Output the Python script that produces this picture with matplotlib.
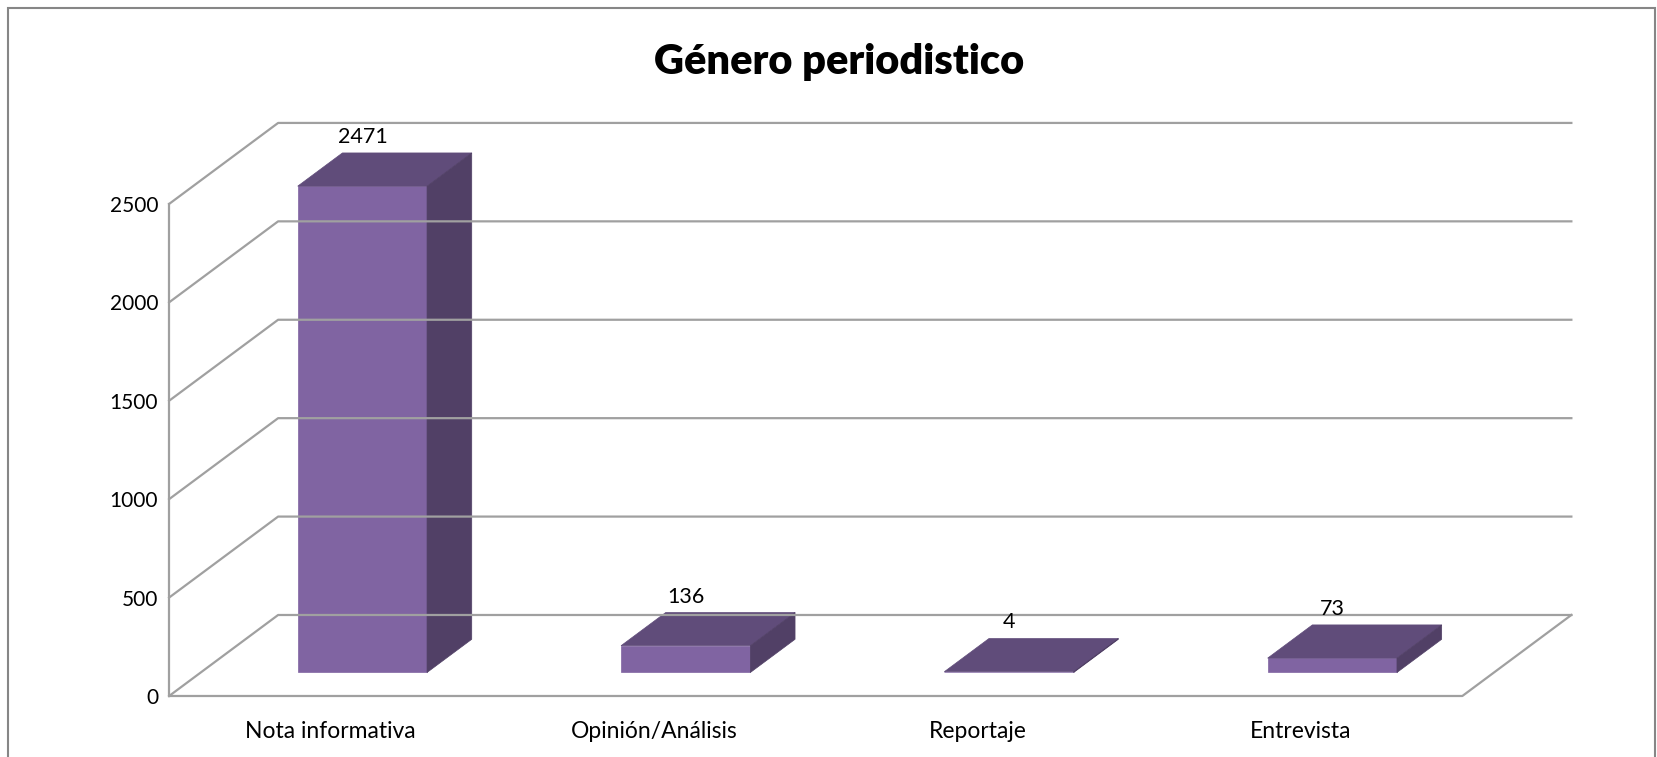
import matplotlib
matplotlib.use('Agg')
import matplotlib.pyplot as plt
from matplotlib.patches import Polygon, Rectangle
from matplotlib.transforms import IdentityTransform
import numpy as np

plt.rcParams['font.family'] = ['Lato', 'DejaVu Sans']

# datos
categorias = ['Nota informativa', 'Opinión/Análisis', 'Reportaje', 'Entrevista']
valores = [2471, 136, 4, 73]
ticks_y = [0, 500, 1000, 1500, 2000, 2500]
titulo = 'Género periodistico'

# colores estilo Excel
c_frente = '#8064A2'
c_arriba = '#604C7A'
c_lado = '#514066'
c_grid = '#A0A0A0'

fig = plt.figure(figsize=(16.58, 7.57), dpi=100)
ax = fig.add_axes([0.102, 0.0806, 0.78, 0.65])
ax.set_xlim(0, len(categorias))
ax.set_ylim(0, ticks_y[-1])

# profundidad 3D en pixeles
DX, DY = 109, 81
f0, f1 = 0.29, 0.70   # profundidad de las barras
ancho = 0.40

fig.canvas.draw()


def P(x, y, f):
    px, py = ax.transData.transform((x, y))
    return (px + f * DX, py + f * DY)


def linea(pts, **kw):
    xs, ys = zip(*pts)
    ax.add_line(plt.Line2D(xs, ys, transform=IdentityTransform(), clip_on=False,
                           color=c_grid, lw=1.6, **kw))


# paredes y rejilla
for v in ticks_y:
    linea([P(0, v, 0), P(0, v, 1), P(len(categorias), v, 1)])
linea([P(0, 0, 0), P(0, ticks_y[-1], 0)])
linea([P(0, 0, 0), P(len(categorias), 0, 0), P(len(categorias), 0, 1)])


def poly(pts, color):
    ax.add_patch(Polygon(pts, closed=True, transform=IdentityTransform(), clip_on=False,
                         facecolor=color, edgecolor=color, lw=0.5))


# barras
for i, v in enumerate(valores):
    x0 = i + (1 - ancho) / 2
    x1 = x0 + ancho
    poly([P(x0, 0, f0), P(x1, 0, f0), P(x1, v, f0), P(x0, v, f0)], c_frente)
    poly([P(x0, v, f0), P(x1, v, f0), P(x1, v, f1), P(x0, v, f1)], c_arriba)
    poly([P(x1, 0, f0), P(x1, 0, f1), P(x1, v, f1), P(x1, v, f0)], c_lado)
    lx, _ = P(i + 0.5, v, f0)
    _, ly = P(i + 0.5, v, f1)
    ax.text(lx, ly + 16, str(v), transform=IdentityTransform(), ha='center', va='center',
            fontsize=15.5, color='black')

ax.set_yticks(ticks_y)
ax.set_xticks(np.arange(len(categorias)) + 0.5)
ax.set_xticklabels(categorias)
ax.tick_params(axis='both', length=0)
ax.tick_params(axis='y', pad=8, labelsize=15)
ax.tick_params(axis='x', pad=18, labelsize=16.5)
for s in ax.spines.values():
    s.set_visible(False)
ax.patch.set_alpha(0)

fig.text(0.506, 0.918, titulo, ha='center', va='center', fontsize=30, fontweight='heavy')

# marco exterior
fig.add_artist(Rectangle((0.005, -0.02), 0.993, 1.009, transform=fig.transFigure,
                         fill=False, edgecolor='#868686', lw=1.5))

fig.savefig('out.png', dpi=100)
